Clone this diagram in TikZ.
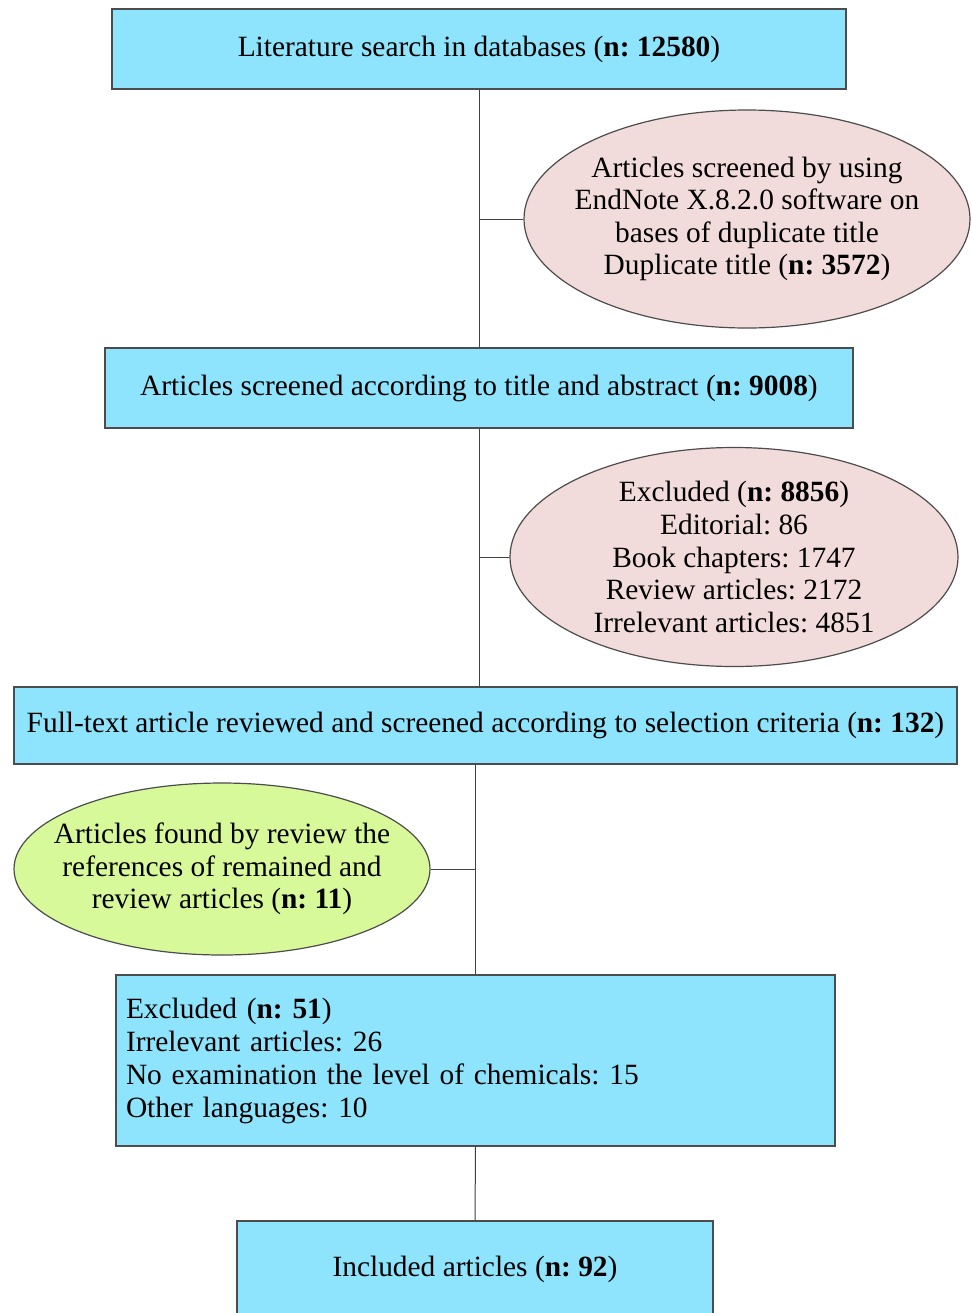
\documentclass[tikz,border=0pt]{standalone}
\usepackage{fontspec}
\setmainfont{Liberation Serif}
\frenchspacing
\usetikzlibrary{shapes.geometric}
\definecolor{bleuboite}{HTML}{8EE4FC}
\definecolor{roseell}{HTML}{F2DCDB}
\definecolor{vertell}{HTML}{D8F99A}

\begin{document}
\begin{tikzpicture}[x=0.5pt,y=-0.5pt]
		\tikzstyle{boite} = [rectangle,draw=black!70,line width=0.7pt,fill=bleuboite,inner sep=0pt,align=center,font=\fontsize{14.7}{16.5}\selectfont]
		\tikzstyle{bulle} = [ellipse,draw=black!70,line width=0.6pt,inner xsep=-25pt,inner ysep=0pt,align=center,font=\fontsize{14.7}{16.3}\selectfont]
		\tikzstyle{trait} = [draw=black!75,line width=0.5pt]
		
		\useasboundingbox (0,0) rectangle (972,1313);
		
		\node[boite,minimum width=367pt,minimum height=40pt](search) at (479,49) {Literature search in databases (\textbf{n: 12580})};
		\node[bulle,fill=roseell,minimum width=223pt,minimum height=109pt](dup) at (747,219) {Articles screened by using\\EndNote X.8.2.0 software on\\bases of duplicate title\\Duplicate title (\textbf{n: 3572})};
		\node[boite,minimum width=374pt,minimum height=40pt](title) at (479,388) {Articles screened according to title and abstract (\textbf{n: 9008})};
		\node[bulle,fill=roseell,minimum width=224pt,minimum height=109.5pt](excl) at (734,557) {Excluded (\textbf{n: 8856})\\Editorial: 86\\Book chapters: 1747\\Review articles: 2172\\Irrelevant articles: 4851};
		\node[boite,minimum width=471.5pt,minimum height=38.5pt](full) at (485.5,725.5) {Full-text article reviewed and screened according to selection criteria (\textbf{n: 132})};
		\node[bulle,fill=vertell,minimum width=208pt,minimum height=86pt](found) at (222,869) {Articles found by review the\\references of remained and\\review articles (\textbf{n: 11})};
		\node[boite,minimum height=85.5pt,text width=349.5pt,inner xsep=5pt,align=left](excl2) at (475.5,1060.5) {Excluded (\textbf{n: 51})\\Irrelevant articles: 26\\No examination the level of chemicals: 15\\Other languages: 10};
		\node[boite,minimum width=238pt,minimum height=48pt](incl) at (475,1269) {Included articles (\textbf{n: 92})};
		
		\draw[trait] (search.south) -- (title.north);
		\draw[trait] (dup.west) -- (dup.west -| search.south);
		\draw[trait] (title.south) -- (title.south |- full.north);
		\draw[trait] (excl.west) -- (excl.west -| title.south);
		\draw[trait] (excl2.north) -- (excl2.north |- full.south);
		\draw[trait] (found.east) -- (found.east -| excl2.north);
		\draw[trait] (excl2.south) -- (incl.north);
		\end{tikzpicture}
\end{document}
